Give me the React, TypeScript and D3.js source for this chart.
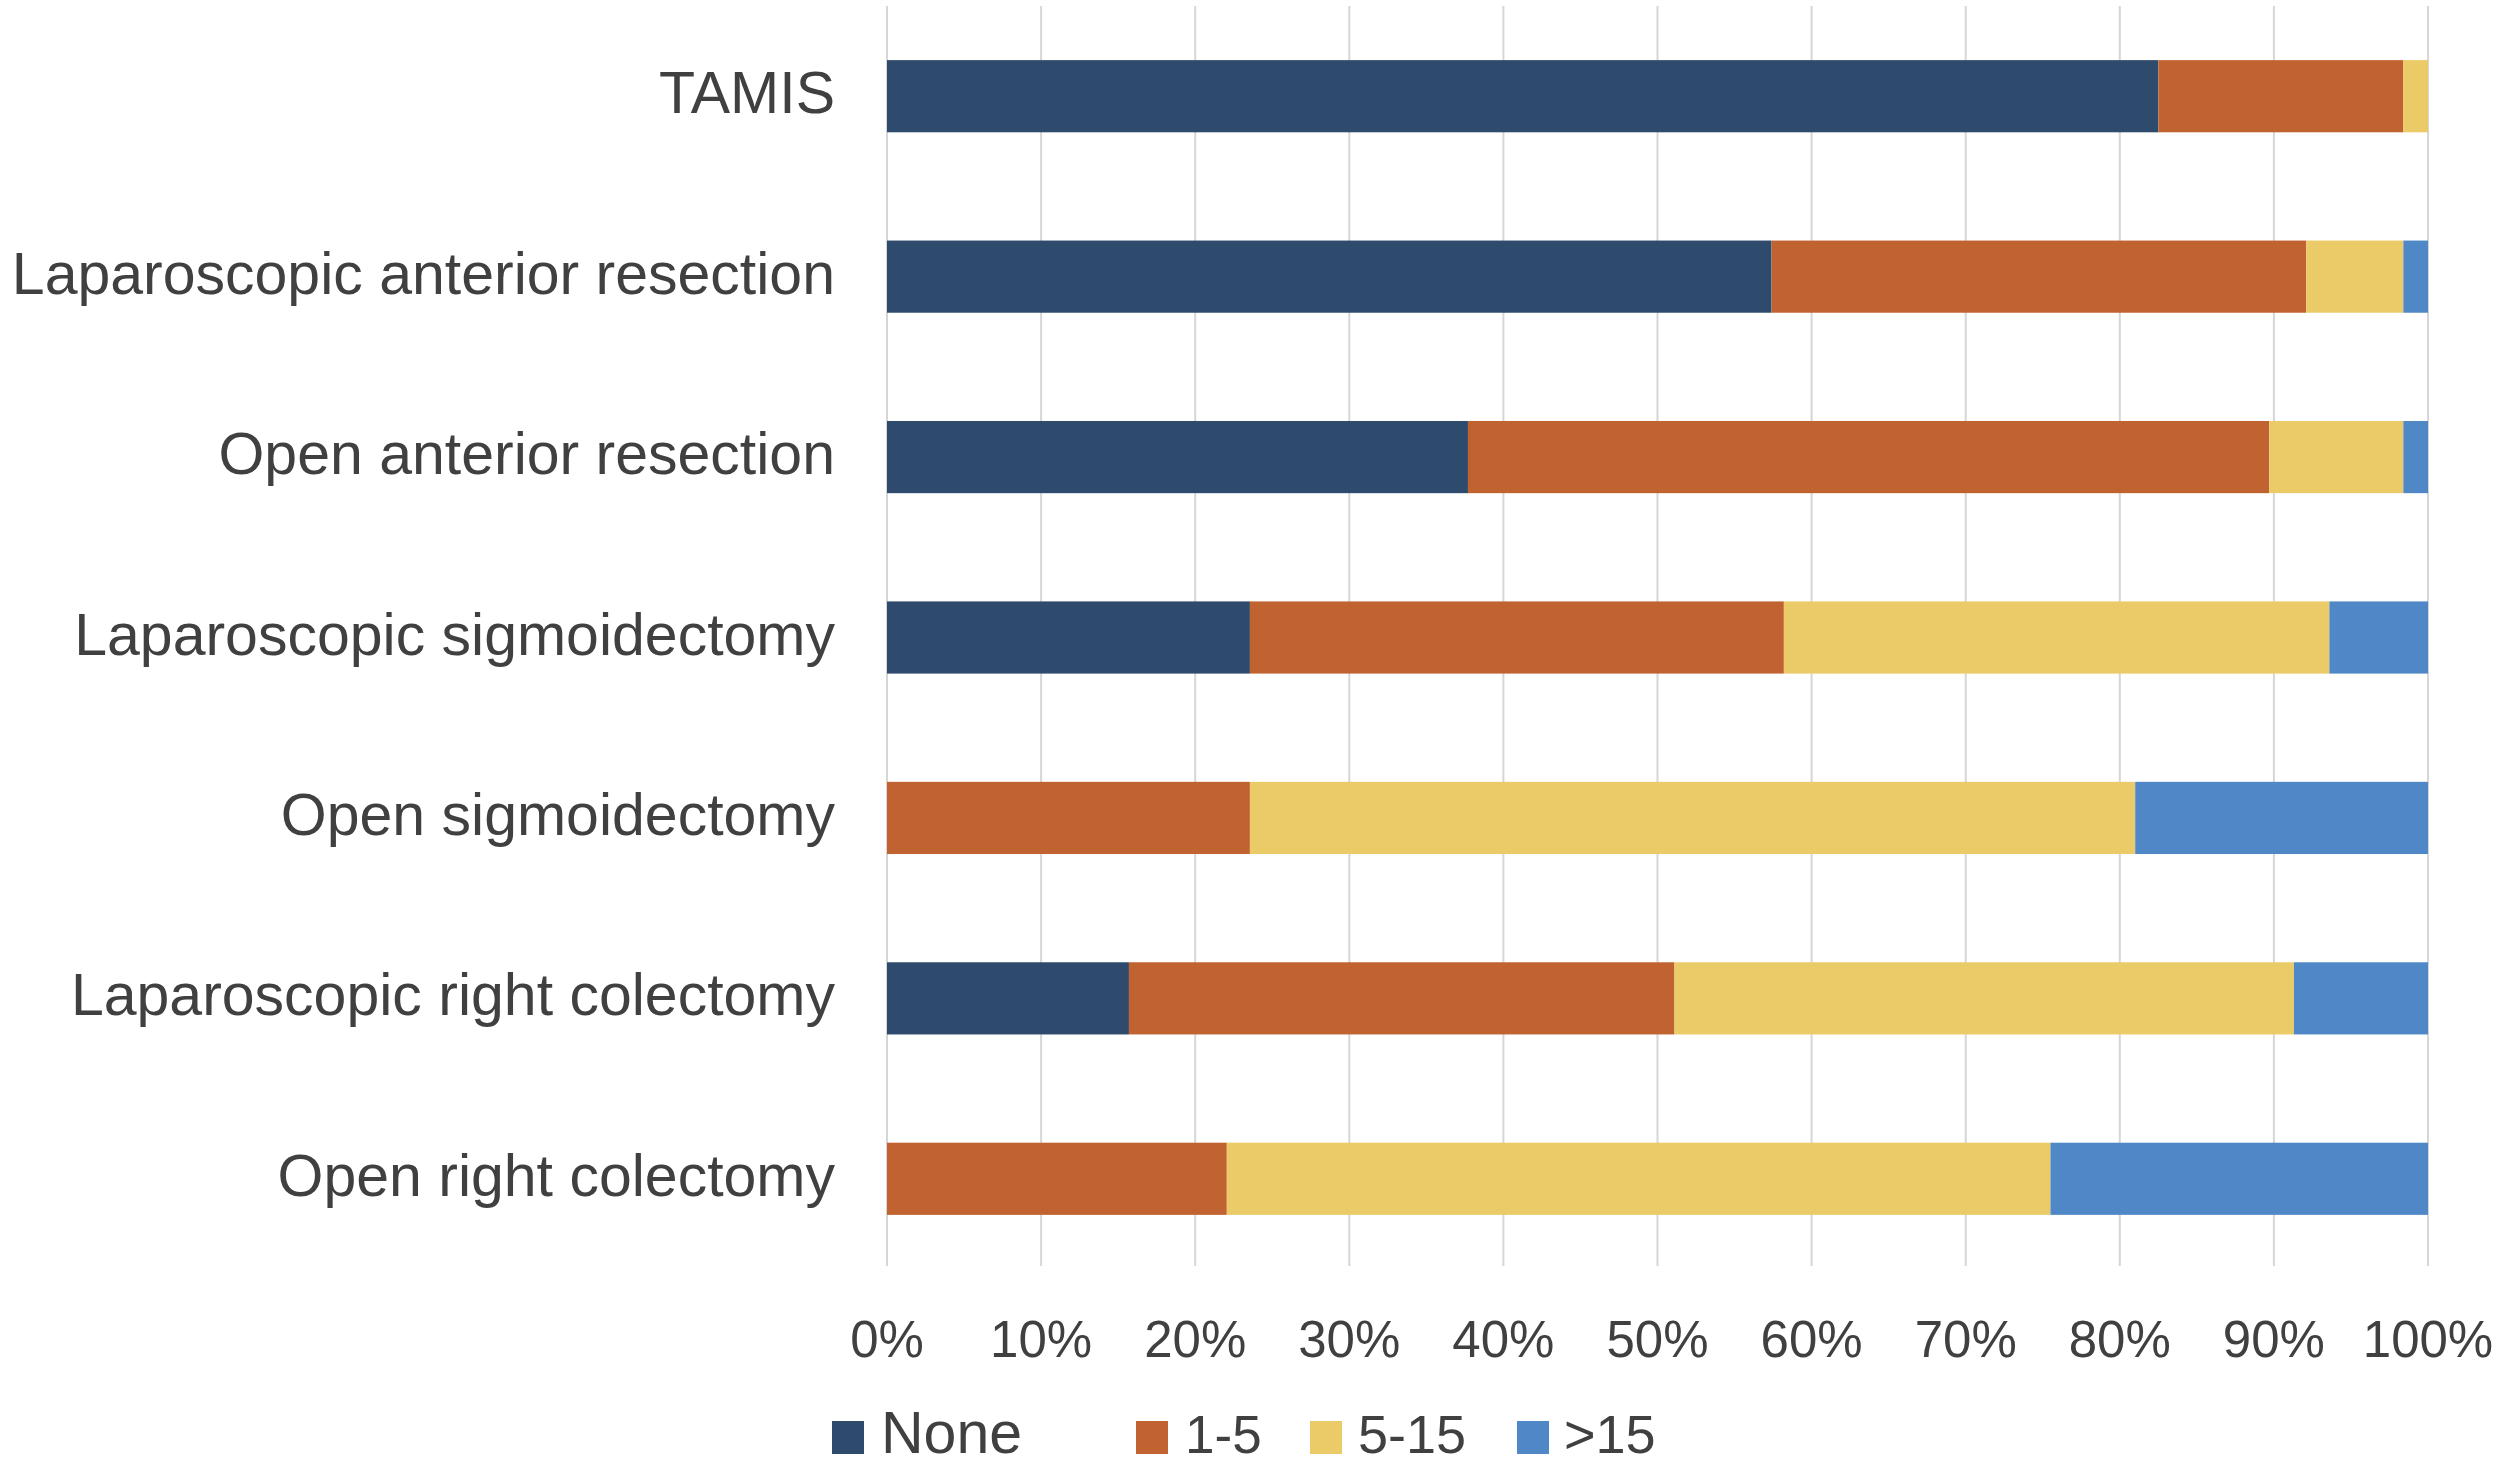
import React from "react";
import * as d3 from "d3";

const categories = [
  "TAMIS",
  "Laparoscopic anterior resection",
  "Open anterior resection",
  "Laparoscopic sigmoidectomy",
  "Open sigmoidectomy",
  "Laparoscopic right colectomy",
  "Open right colectomy",
];

const seriesKeys = ["None", "1-5", "5-15", ">15"];

// percentage of patients per group
const noneValues = [82.5, 57.4, 37.7, 23.55, 0, 15.7, 0];
const oneToFive = [15.9, 34.7, 52.0, 34.65, 23.55, 35.4, 22.05];
const fiveToFifteen = [1.6, 6.3, 8.7, 35.4, 57.45, 40.2, 53.45];
const overFifteen = [0, 1.6, 1.6, 6.4, 19.0, 8.7, 24.5];

const xTicks = [0, 10, 20, 30, 40, 50, 60, 70, 80, 90, 100];

const colors: Record<string, string> = {
  None: "#2e4a6c",
  "1-5": "#c06331",
  "5-15": "#ebcb67",
  ">15": "#5088c7",
};

const width = 2500;
const height = 1465;
const textColor = "#404040";
const font = "'Liberation Sans', Arial, Helvetica, sans-serif";

type Row = { name: string } & Record<string, number | string>;

const rows: Row[] = categories.map((name, i) => ({
  name,
  None: noneValues[i],
  "1-5": oneToFive[i],
  "5-15": fiveToFifteen[i],
  ">15": overFifteen[i],
}));

export default function App() {
  const x = d3.scaleLinear().domain([0, 100]).range([887, 2428]);
  const y = d3
    .scaleBand<string>()
    .domain(categories)
    .range([6, 1269])
    .paddingInner(0.6)
    .paddingOuter(0.3);

  const stacked = d3
    .stack<Row>()
    .keys(seriesKeys)
    .value((d, k) => d[k] as number)(rows);

  const gridTop = 6;
  const gridBottom = 1266;

  const legendItems = [
    { key: "None", sw: 832, tx: 881, size: 59 },
    { key: "1-5", sw: 1136, tx: 1185, size: 53 },
    { key: "5-15", sw: 1310, tx: 1358, size: 54 },
    { key: ">15", sw: 1517, tx: 1564, size: 54 },
  ];

  return (
    <svg
      width={width}
      height={height}
      viewBox={`0 0 ${width} ${height}`}
      style={{ position: "absolute", left: 0, top: 0, background: "#ffffff" }}
    >
      <rect x={0} y={0} width={width} height={height} fill="#ffffff" />

      {/* vertical gridlines */}
      {xTicks.map((t) => (
        <line
          key={`g${t}`}
          x1={x(t)}
          x2={x(t)}
          y1={gridTop}
          y2={gridBottom}
          stroke="#d6d6d6"
          strokeWidth={2}
        />
      ))}

      {/* stacked bars */}
      {stacked.map((s) => (
        <g key={s.key} fill={colors[s.key]}>
          {s.map((d) => {
            const w = x(d[1]) - x(d[0]);
            if (w <= 0) return null;
            return (
              <rect
                key={d.data.name}
                x={x(d[0])}
                y={y(d.data.name)}
                width={w}
                height={y.bandwidth()}
              />
            );
          })}
        </g>
      ))}

      {/* category labels */}
      {categories.map((c) => (
        <text
          key={c}
          x={835}
          y={(y(c) ?? 0) + y.bandwidth() / 2 + 17}
          textAnchor="end"
          fill={textColor}
          fontFamily={font}
          fontSize={59}
        >
          {c}
        </text>
      ))}

      {/* x tick labels */}
      {xTicks.map((t) => (
        <text
          key={`t${t}`}
          x={x(t)}
          y={1357}
          textAnchor="middle"
          fill={textColor}
          fontFamily={font}
          fontSize={51}
        >
          {`${t}%`}
        </text>
      ))}

      {/* legend */}
      {legendItems.map((it) => (
        <g key={it.key}>
          <rect x={it.sw} y={1421} width={32} height={33} fill={colors[it.key]} />
          <text
            x={it.tx}
            y={1453}
            fill={textColor}
            fontFamily={font}
            fontSize={it.size}
          >
            {it.key}
          </text>
        </g>
      ))}
    </svg>
  );
}
